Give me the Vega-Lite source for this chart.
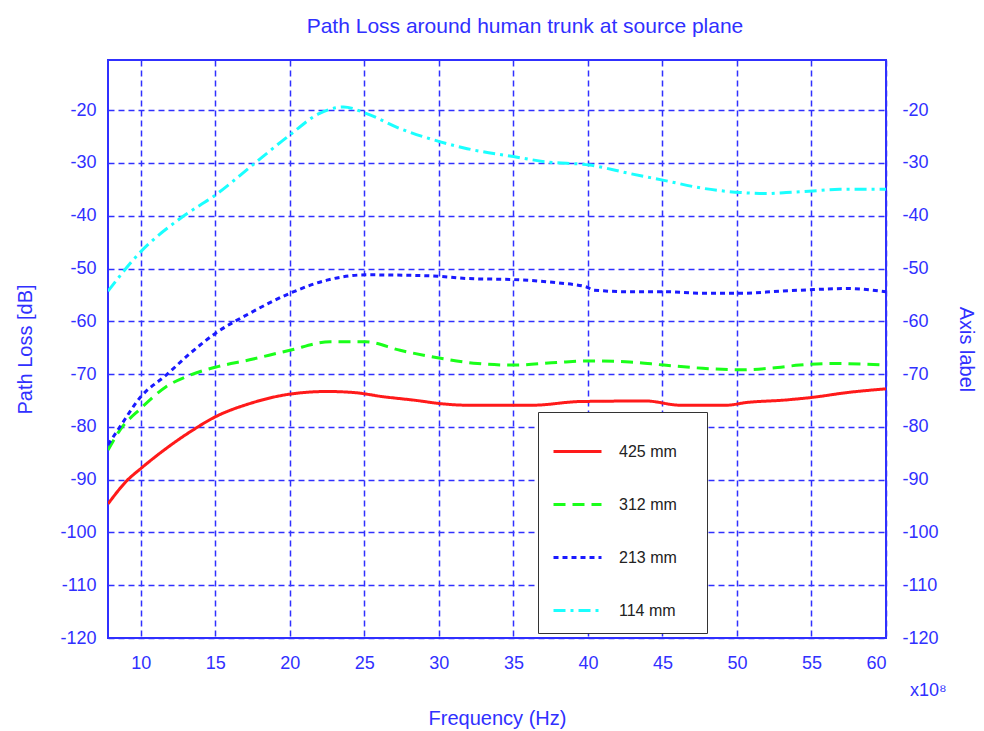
{
  "$schema": "https://vega.github.io/schema/vega-lite/v6.json",
  "width": 778,
  "height": 578,
  "autosize": {"type": "none"},
  "padding": {"left": 108, "top": 60, "right": 98, "bottom": 93},
  "background": "white",
  "title": {
    "text": "Path Loss around human trunk at source plane",
    "font": "Liberation Sans",
    "fontSize": 21,
    "fontWeight": "normal",
    "color": "#3030ff",
    "anchor": "middle",
    "dx": 28,
    "offset": 23
  },
  "datasets": {
    "curves": [
      {"series": "425 mm", "f": 7.8, "v": -94.6},
      {"series": "425 mm", "f": 9.1, "v": -90.1},
      {"series": "425 mm", "f": 10, "v": -87.9},
      {"series": "425 mm", "f": 11.7, "v": -84.1},
      {"series": "425 mm", "f": 13.5, "v": -80.6},
      {"series": "425 mm", "f": 15, "v": -78.1},
      {"series": "425 mm", "f": 17.3, "v": -75.6},
      {"series": "425 mm", "f": 20, "v": -73.8},
      {"series": "425 mm", "f": 22.5, "v": -73.3},
      {"series": "425 mm", "f": 24.3, "v": -73.5},
      {"series": "425 mm", "f": 26.3, "v": -74.3},
      {"series": "425 mm", "f": 28.5, "v": -75.0},
      {"series": "425 mm", "f": 30.1, "v": -75.6},
      {"series": "425 mm", "f": 32, "v": -75.9},
      {"series": "425 mm", "f": 34.1, "v": -75.9},
      {"series": "425 mm", "f": 36.3, "v": -75.9},
      {"series": "425 mm", "f": 39.5, "v": -75.2},
      {"series": "425 mm", "f": 43.9, "v": -75.1},
      {"series": "425 mm", "f": 46.2, "v": -75.9},
      {"series": "425 mm", "f": 49.3, "v": -75.9},
      {"series": "425 mm", "f": 50.6, "v": -75.4},
      {"series": "425 mm", "f": 53.3, "v": -74.9},
      {"series": "425 mm", "f": 55.1, "v": -74.4},
      {"series": "425 mm", "f": 57.4, "v": -73.5},
      {"series": "425 mm", "f": 60, "v": -72.8},

      {"series": "312 mm", "f": 7.8, "v": -84.4},
      {"series": "312 mm", "f": 8.6, "v": -80.6},
      {"series": "312 mm", "f": 10, "v": -76.5},
      {"series": "312 mm", "f": 11.7, "v": -72.4},
      {"series": "312 mm", "f": 13.3, "v": -70.2},
      {"series": "312 mm", "f": 15, "v": -68.7},
      {"series": "312 mm", "f": 17.3, "v": -67.3},
      {"series": "312 mm", "f": 20, "v": -65.5},
      {"series": "312 mm", "f": 22.7, "v": -63.9},
      {"series": "312 mm", "f": 25.1, "v": -63.9},
      {"series": "312 mm", "f": 27.4, "v": -65.5},
      {"series": "312 mm", "f": 30.1, "v": -67.0},
      {"series": "312 mm", "f": 32.6, "v": -68.0},
      {"series": "312 mm", "f": 35, "v": -68.3},
      {"series": "312 mm", "f": 37.9, "v": -67.8},
      {"series": "312 mm", "f": 40.1, "v": -67.5},
      {"series": "312 mm", "f": 42.8, "v": -67.7},
      {"series": "312 mm", "f": 45.1, "v": -68.3},
      {"series": "312 mm", "f": 47.7, "v": -68.9},
      {"series": "312 mm", "f": 50.2, "v": -69.2},
      {"series": "312 mm", "f": 52.2, "v": -68.9},
      {"series": "312 mm", "f": 54.2, "v": -68.3},
      {"series": "312 mm", "f": 56.2, "v": -68.0},
      {"series": "312 mm", "f": 60, "v": -68.3},

      {"series": "213 mm", "f": 7.8, "v": -83.4},
      {"series": "213 mm", "f": 8.6, "v": -80.0},
      {"series": "213 mm", "f": 10, "v": -74.3},
      {"series": "213 mm", "f": 11.7, "v": -70.2},
      {"series": "213 mm", "f": 13.3, "v": -66.1},
      {"series": "213 mm", "f": 15, "v": -62.3},
      {"series": "213 mm", "f": 17.3, "v": -58.5},
      {"series": "213 mm", "f": 20, "v": -54.7},
      {"series": "213 mm", "f": 22.5, "v": -52.2},
      {"series": "213 mm", "f": 25.1, "v": -51.2},
      {"series": "213 mm", "f": 29.6, "v": -51.4},
      {"series": "213 mm", "f": 31.9, "v": -51.9},
      {"series": "213 mm", "f": 35, "v": -52.1},
      {"series": "213 mm", "f": 37.9, "v": -52.7},
      {"series": "213 mm", "f": 39.9, "v": -53.5},
      {"series": "213 mm", "f": 40.4, "v": -54.1},
      {"series": "213 mm", "f": 42.8, "v": -54.4},
      {"series": "213 mm", "f": 45.1, "v": -54.4},
      {"series": "213 mm", "f": 47.7, "v": -54.7},
      {"series": "213 mm", "f": 50.2, "v": -54.7},
      {"series": "213 mm", "f": 52.9, "v": -54.3},
      {"series": "213 mm", "f": 55.1, "v": -54.0},
      {"series": "213 mm", "f": 57.4, "v": -53.8},
      {"series": "213 mm", "f": 60, "v": -54.4},

      {"series": "114 mm", "f": 7.8, "v": -54.3},
      {"series": "114 mm", "f": 9.9, "v": -47.1},
      {"series": "114 mm", "f": 12.8, "v": -40.2},
      {"series": "114 mm", "f": 15, "v": -36.1},
      {"series": "114 mm", "f": 17.5, "v": -30.4},
      {"series": "114 mm", "f": 20, "v": -24.7},
      {"series": "114 mm", "f": 22, "v": -20.6},
      {"series": "114 mm", "f": 23.6, "v": -19.4},
      {"series": "114 mm", "f": 25.1, "v": -20.6},
      {"series": "114 mm", "f": 27.4, "v": -23.5},
      {"series": "114 mm", "f": 30.1, "v": -26.0},
      {"series": "114 mm", "f": 31.9, "v": -27.3},
      {"series": "114 mm", "f": 35, "v": -28.8},
      {"series": "114 mm", "f": 37.2, "v": -29.8},
      {"series": "114 mm", "f": 40.1, "v": -30.4},
      {"series": "114 mm", "f": 42.8, "v": -32.0},
      {"series": "114 mm", "f": 45.1, "v": -33.3},
      {"series": "114 mm", "f": 47.7, "v": -34.8},
      {"series": "114 mm", "f": 50.2, "v": -35.6},
      {"series": "114 mm", "f": 52, "v": -35.8},
      {"series": "114 mm", "f": 53.3, "v": -35.6},
      {"series": "114 mm", "f": 55.1, "v": -35.3},
      {"series": "114 mm", "f": 56.9, "v": -35.0},
      {"series": "114 mm", "f": 60, "v": -35.0}
    ],
    "exponent": [
      {"f": 60, "v": -120, "text": "x10⁸"}
    ]
  },
  "layer": [
    {
      "data": {"name": "curves"},
      "mark": {"type": "line", "strokeWidth": 3, "interpolate": "monotone", "clip": true},
      "encoding": {
        "x": {
          "field": "f",
          "type": "quantitative",
          "scale": {"domain": [7.8, 60], "nice": false, "zero": false},
          "axis": {
            "title": "Frequency (Hz)",
            "values": [10, 15, 20, 25, 30, 35, 40, 45, 50, 55, 60],
            "labelPadding": 16,
            "titlePadding": 36
          }
        },
        "y": {
          "field": "v",
          "type": "quantitative",
          "scale": {"domain": [-120, -10.5], "nice": false, "zero": false},
          "axis": {
            "title": "Path Loss [dB]",
            "orient": "left",
            "values": [-120, -110, -100, -90, -80, -70, -60, -50, -40, -30, -20],
            "labelExpr": "'' + datum.value",
            "labelPadding": 12,
            "titlePadding": 24
          }
        },
        "color": {
          "field": "series",
          "type": "nominal",
          "scale": {
            "domain": ["425 mm", "312 mm", "213 mm", "114 mm"],
            "range": ["#ff1a1a", "#1aff1a", "#1a1aff", "#1affff"]
          },
          "legend": {
            "title": null,
            "orient": "none",
            "legendX": 430,
            "legendY": 352,
            "padding": 14,
            "rowPadding": 19,
            "symbolType": "stroke",
            "symbolSize": 2304,
            "symbolStrokeWidth": 3,
            "labelOffset": 16,
            "labelFont": "Liberation Sans",
            "labelFontSize": 16,
            "labelColor": "#222222",
            "labelExpr": "datum.label + '\u2003\u200b'",
            "strokeColor": "#333333",
            "fillColor": "white"
          }
        },
        "strokeDash": {
          "field": "series",
          "type": "nominal",
          "scale": {
            "domain": ["425 mm", "312 mm", "213 mm", "114 mm"],
            "range": [[1, 0], [12, 7], [5, 4], [12, 5, 3, 5]]
          },
          "legend": {
            "title": null,
            "orient": "none",
            "legendX": 430,
            "legendY": 352,
            "padding": 14,
            "rowPadding": 19,
            "symbolType": "stroke",
            "symbolSize": 2304,
            "symbolStrokeWidth": 3,
            "labelOffset": 16,
            "labelFont": "Liberation Sans",
            "labelFontSize": 16,
            "labelColor": "#222222",
            "labelExpr": "datum.label + '\u2003\u200b'",
            "strokeColor": "#333333",
            "fillColor": "white"
          }
        }
      }
    },
    {
      "data": {"name": "exponent"},
      "mark": {
        "type": "text",
        "font": "Liberation Sans",
        "fontSize": 18,
        "color": "#3030ff",
        "align": "left",
        "baseline": "middle",
        "dx": 24,
        "dy": 53
      },
      "encoding": {
        "x": {"field": "f", "type": "quantitative"},
        "y": {
          "field": "v",
          "type": "quantitative",
          "axis": {
            "title": "Axis label",
            "orient": "right",
            "values": [-120, -110, -100, -90, -80, -70, -60, -50, -40, -30, -20],
            "labelExpr": "'' + datum.value",
            "grid": false,
            "labelPadding": 16,
            "titlePadding": 17
          }
        },
        "text": {"field": "text"}
      }
    }
  ],
  "resolve": {"axis": {"y": "independent"}},
  "config": {
    "view": {"stroke": "#3030ff", "strokeWidth": 2},
    "axis": {
      "labelFont": "Liberation Sans",
      "labelFontSize": 18,
      "labelColor": "#3030ff",
      "titleFont": "Liberation Sans",
      "titleFontSize": 20,
      "titleFontWeight": "normal",
      "titleColor": "#3030ff",
      "domain": false,
      "ticks": false,
      "grid": true,
      "gridColor": "#3030ff",
      "gridDash": [6, 4],
      "gridWidth": 1.5,
      "gridOpacity": 1
    }
  }
}
